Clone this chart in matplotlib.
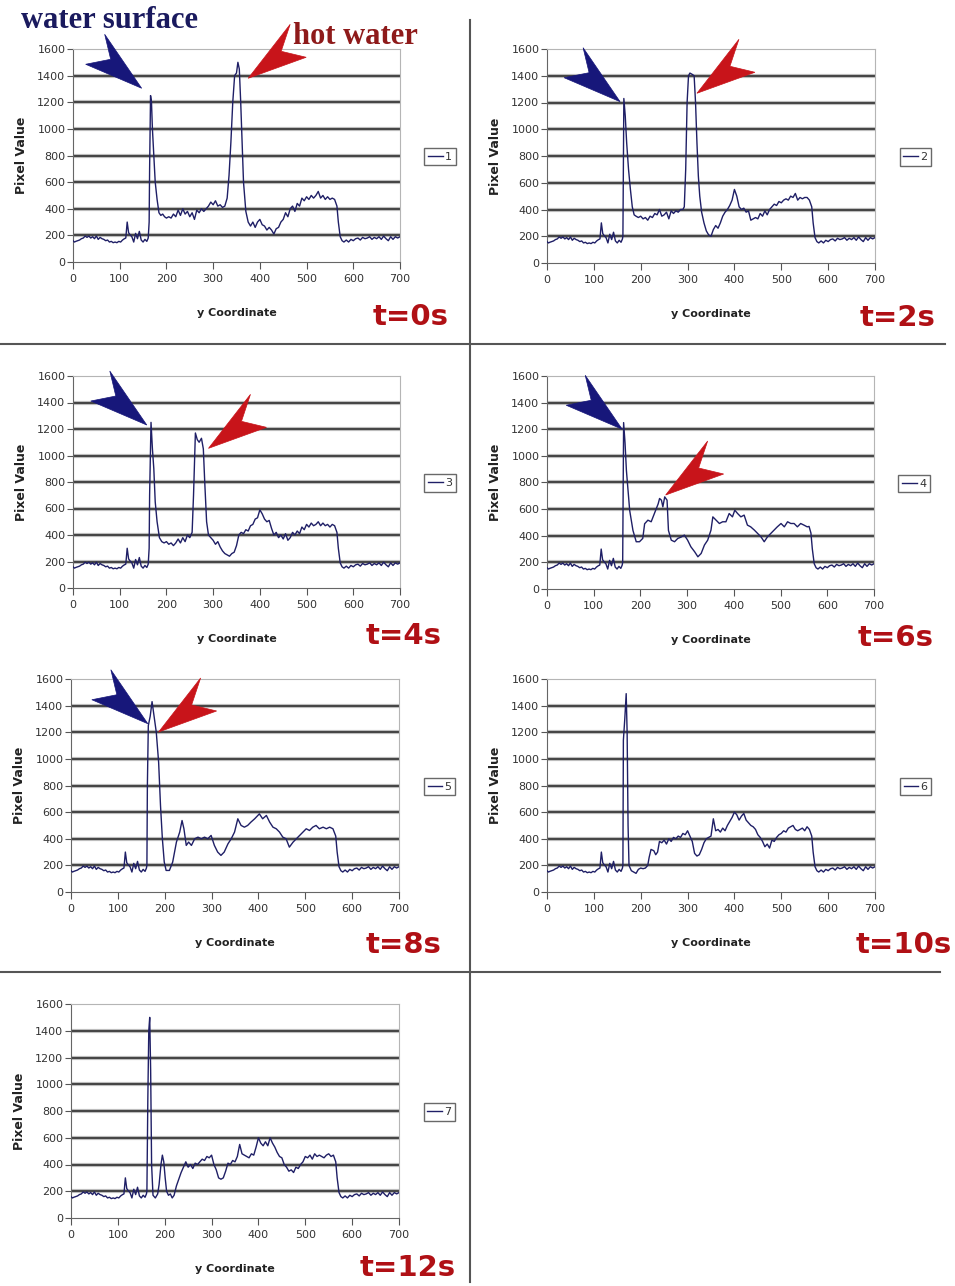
import matplotlib
matplotlib.use('Agg')
import matplotlib.pyplot as plt
import matplotlib.transforms as mtransforms
from matplotlib.patches import Polygon
from matplotlib.lines import Line2D
import numpy as np

# profile above the water surface (same in every frame)
base_profile = [(0, 160), (3, 150), (6, 155), (10, 160), (14, 165), (18, 175), (22, 180),
                (26, 195), (30, 185), (34, 195), (38, 180), (42, 190), (46, 175), (50, 195),
                (54, 170), (58, 185), (62, 175), (66, 170), (70, 160), (74, 165), (78, 150),
                (82, 155), (86, 145), (90, 150), (94, 145), (98, 155), (102, 150), (106, 165),
                (110, 175), (113, 180), (116, 300), (119, 220), (122, 205), (126, 190),
                (130, 150), (134, 215), (138, 175), (142, 230), (146, 165), (150, 150),
                (154, 170), (158, 155), (161, 180)]

# bottom of the tank (same in every frame)
tail_profile = [(565, 420), (568, 300), (572, 190), (576, 160), (580, 150), (585, 165),
                (590, 150), (595, 170), (600, 160), (605, 175), (610, 180), (615, 165),
                (620, 185), (625, 175), (630, 180), (635, 190), (640, 170), (645, 185),
                (650, 175), (655, 190), (660, 170), (665, 195), (670, 175), (675, 160),
                (680, 190), (685, 170), (690, 190), (695, 180), (700, 190)]

t0_profile = [(163, 300), (164, 700), (166, 1250), (168, 1200), (170, 1000), (173, 800),
              (176, 600), (180, 470), (184, 370), (188, 350), (192, 360), (196, 340),
              (200, 330), (205, 340), (210, 330), (215, 360), (220, 340), (225, 390),
              (230, 350), (235, 400), (240, 360), (245, 380), (250, 340), (255, 370),
              (260, 320), (265, 390), (270, 370), (275, 400), (280, 380), (285, 400),
              (290, 420), (295, 450), (300, 430), (305, 460), (310, 420), (315, 430),
              (320, 410), (325, 420), (330, 480), (334, 650), (338, 900), (342, 1200),
              (346, 1400), (350, 1420), (353, 1500), (356, 1450), (359, 1200), (362, 900),
              (365, 600), (370, 380), (375, 300), (380, 270), (385, 300), (390, 260),
              (395, 300), (400, 320), (405, 280), (410, 270), (415, 240), (420, 260),
              (425, 240), (430, 210), (435, 250), (440, 260), (445, 300), (450, 320),
              (455, 370), (460, 340), (465, 400), (470, 420), (475, 380), (480, 440),
              (485, 420), (490, 480), (495, 460), (500, 490), (505, 470), (510, 500),
              (515, 480), (520, 500), (525, 530), (530, 480), (535, 500), (540, 470),
              (545, 490), (550, 470), (555, 480), (560, 470)]

t2_profile = [(162, 200), (164, 1230), (167, 1100), (170, 900), (174, 700), (178, 550),
              (182, 420), (186, 360), (190, 350), (195, 340), (200, 350), (205, 330),
              (210, 340), (215, 320), (220, 350), (225, 340), (230, 370), (235, 360),
              (240, 400), (245, 350), (250, 360), (255, 380), (260, 330), (265, 390),
              (270, 370), (275, 390), (280, 380), (285, 400), (290, 400), (293, 420),
              (296, 700), (299, 1200), (302, 1400), (305, 1420), (310, 1410), (314, 1400),
              (317, 1200), (320, 900), (323, 650), (326, 500), (330, 380), (335, 300),
              (340, 240), (345, 210), (350, 200), (355, 250), (360, 280), (365, 260),
              (370, 300), (375, 350), (380, 380), (385, 400), (390, 430), (395, 470),
              (400, 550), (405, 500), (410, 420), (415, 400), (420, 410), (425, 380),
              (430, 390), (435, 320), (440, 330), (445, 340), (450, 330), (455, 370),
              (460, 350), (465, 390), (470, 360), (475, 400), (480, 420), (485, 440),
              (490, 430), (495, 460), (500, 450), (505, 470), (510, 480), (515, 470),
              (520, 500), (525, 490), (530, 520), (535, 470), (540, 490), (545, 480),
              (550, 490), (555, 490), (560, 470)]

t4_profile = [(163, 300), (164, 700), (167, 1250), (170, 1050), (173, 900), (176, 650),
              (180, 500), (185, 380), (190, 350), (195, 340), (200, 350), (205, 330),
              (210, 340), (215, 320), (220, 340), (225, 370), (230, 340), (235, 380),
              (240, 350), (245, 400), (250, 380), (255, 420), (258, 700), (262, 1170),
              (266, 1120), (270, 1100), (275, 1130), (279, 1050), (282, 800), (286, 500),
              (290, 400), (295, 380), (300, 360), (305, 330), (310, 350), (315, 310),
              (320, 280), (325, 260), (330, 250), (335, 240), (340, 260), (345, 270),
              (350, 320), (355, 400), (360, 420), (365, 410), (370, 440), (375, 430),
              (380, 470), (385, 480), (390, 520), (395, 530), (400, 590), (405, 560),
              (410, 520), (415, 500), (420, 510), (425, 450), (430, 400), (435, 420),
              (440, 380), (445, 400), (450, 370), (455, 410), (460, 360), (465, 380),
              (470, 420), (475, 400), (480, 430), (485, 410), (490, 460), (495, 440),
              (500, 480), (505, 460), (510, 490), (515, 470), (520, 480), (525, 500),
              (530, 470), (535, 490), (540, 470), (545, 480), (550, 460), (555, 480),
              (560, 470)]

t6_profile = [(162, 200), (164, 1250), (167, 1100), (170, 890), (177, 590), (184, 440),
              (191, 355), (198, 355), (205, 380), (209, 490), (216, 517), (223, 505),
              (230, 567), (238, 640), (241, 680), (245, 667), (248, 617), (252, 692),
              (257, 667), (260, 440), (266, 367), (273, 355), (280, 380), (287, 390),
              (294, 405), (301, 367), (308, 317), (316, 280), (323, 242), (330, 267),
              (337, 330), (344, 367), (351, 442), (355, 542), (362, 517), (369, 492),
              (376, 505), (383, 505), (390, 567), (397, 542), (402, 592), (408, 567),
              (415, 542), (422, 555), (429, 480), (436, 467), (444, 442), (451, 417),
              (458, 392), (465, 355), (472, 392), (479, 417), (486, 442), (493, 467),
              (501, 492), (508, 467), (515, 505), (522, 492), (529, 492), (536, 467),
              (543, 492), (550, 480), (557, 467), (561, 470)]

t8_profile = [(162, 200), (163, 800), (165, 1250), (169, 1320), (173, 1430), (178, 1300),
              (182, 1200), (187, 975), (191, 650), (195, 400), (199, 225), (203, 162),
              (210, 162), (217, 225), (225, 375), (232, 450), (237, 537), (241, 475),
              (246, 350), (251, 375), (257, 350), (264, 400), (271, 412), (278, 400),
              (285, 412), (292, 400), (299, 425), (306, 350), (313, 300), (320, 275),
              (327, 300), (335, 362), (342, 400), (349, 450), (356, 550), (363, 500),
              (370, 487), (377, 500), (384, 525), (392, 550), (402, 587), (409, 550),
              (417, 575), (424, 525), (431, 487), (438, 475), (445, 450), (452, 412),
              (459, 400), (466, 337), (474, 375), (481, 400), (488, 425), (495, 450),
              (502, 475), (509, 462), (516, 487), (523, 500), (530, 475), (538, 487),
              (545, 475), (552, 487), (559, 475)]

t10_profile = [(162, 200), (163, 1140), (166, 1300), (169, 1490), (171, 1200), (173, 500),
               (175, 200), (180, 160), (185, 150), (190, 140), (195, 170), (200, 180),
               (205, 175), (210, 180), (215, 200), (218, 260), (222, 320), (228, 310),
               (232, 280), (236, 300), (240, 380), (245, 370), (250, 390), (255, 360),
               (260, 400), (265, 380), (270, 410), (275, 400), (280, 420), (285, 410),
               (290, 440), (295, 430), (300, 460), (305, 420), (310, 380), (315, 290),
               (320, 270), (325, 280), (330, 320), (335, 370), (340, 400), (345, 410),
               (350, 420), (355, 550), (360, 460), (365, 470), (370, 450), (375, 480),
               (380, 460), (385, 500), (390, 530), (395, 560), (400, 600), (405, 580),
               (410, 540), (415, 570), (420, 590), (425, 540), (430, 520), (435, 500),
               (440, 490), (445, 470), (450, 430), (455, 410), (460, 380), (465, 340),
               (470, 360), (475, 330), (480, 390), (485, 380), (490, 410), (495, 430),
               (500, 440), (505, 460), (510, 450), (515, 480), (520, 490), (525, 500),
               (530, 470), (535, 460), (540, 470), (545, 480), (550, 460), (555, 490),
               (560, 470)]

t12_profile = [(162, 200), (164, 900), (166, 1400), (168, 1500), (170, 1100), (172, 400),
               (175, 170), (180, 150), (185, 180), (188, 250), (192, 400), (195, 470),
               (198, 420), (201, 300), (204, 200), (208, 170), (212, 180), (216, 150),
               (220, 170), (225, 240), (230, 290), (235, 340), (240, 380), (245, 420),
               (250, 380), (255, 400), (260, 370), (265, 410), (270, 400), (275, 420),
               (280, 440), (285, 430), (290, 460), (295, 450), (300, 470), (305, 400),
               (310, 360), (315, 300), (320, 290), (325, 300), (330, 350), (335, 410),
               (340, 400), (345, 430), (350, 420), (355, 460), (360, 550), (365, 480),
               (370, 470), (375, 460), (380, 450), (385, 480), (390, 470), (395, 530),
               (400, 600), (405, 560), (410, 540), (415, 570), (420, 540), (425, 600),
               (430, 560), (435, 530), (440, 490), (445, 460), (450, 450), (455, 400),
               (460, 380), (465, 350), (470, 360), (475, 340), (480, 380), (485, 370),
               (490, 400), (495, 420), (500, 460), (505, 450), (510, 470), (515, 440),
               (520, 480), (525, 460), (530, 470), (535, 460), (540, 450), (545, 470),
               (550, 480), (555, 460), (560, 470)]

profiles = [t0_profile, t2_profile, t4_profile, t6_profile, t8_profile, t10_profile, t12_profile]
series_names = ['1', '2', '3', '4', '5', '6', '7']
time_labels = ['t=0s', 't=2s', 't=4s', 't=6s', 't=8s', 't=10s', 't=12s']
x_ticks = [0, 100, 200, 300, 400, 500, 600, 700]
y_ticks = [0, 200, 400, 600, 800, 1000, 1200, 1400, 1600]

# arrow tips in data coords (water surface, hot water)
surface_tips = [(147, 1305), (156, 1206), (158, 1230), (161, 1200), (164, 1264), None, None]
hot_tips = [(375, 1380), (320, 1269), (290, 1054), (254, 706), (187, 1202), None, None]

W, H = 955, 1286
fig = plt.figure(figsize=(W / 100, H / 100), dpi=100)

# axes boxes in pixels: left, right, top, bottom
boxes = [(73, 400, 49, 262), (547, 875, 49, 263), (73, 400, 376, 588), (547, 874, 376, 589),
         (71, 399, 679, 892), (547, 875, 679, 892), (71, 399, 1004, 1218)]
time_pos = [(411, 317), (898, 318), (404, 636), (896, 638), (404, 945), (904, 945), (408, 1268)]

blue_shape = [(0, 0), (-56, -24), (-31, -29), (-37, -54)]
red_shape = [(0, 0), (58, -21), (33, -27), (42, -54)]


def fx(x):
    return x / W


def fy(y):
    return 1 - y / H


def add_dart(ax, tip, shape, color):
    verts = [(dx, -dy) for dx, dy in shape]
    trans = mtransforms.ScaledTranslation(tip[0], tip[1], ax.transData)
    poly = Polygon(verts, closed=True, facecolor=color, edgecolor=color, lw=0.5,
                   transform=mtransforms.IdentityTransform() + trans, clip_on=False, zorder=10)
    ax.add_patch(poly)


for i, prof in enumerate(profiles):
    l, r, t, b = boxes[i]
    ax = fig.add_axes([fx(l), fy(b), (r - l) / W, (b - t) / H])
    pts = np.array(base_profile + prof + tail_profile)
    ax.plot(pts[:, 0], pts[:, 1], color='#1f1f66', lw=1.0, zorder=3, label=series_names[i])
    ax.set_xlim(0, 700)
    ax.set_ylim(0, 1600)
    ax.set_xticks(x_ticks)
    ax.set_yticks(y_ticks)
    for v in y_ticks[1:-1]:
        ax.axhline(v, color='#bdbdbd', lw=3, zorder=1)
        ax.axhline(v, color='#222222', lw=1.1, zorder=2)
    for s in ['top', 'right']:
        ax.spines[s].set_color('#b5b5b5')
    for s in ['left', 'bottom']:
        ax.spines[s].set_color('#666666')
    ax.tick_params(axis='both', direction='out', colors='#555555', labelcolor='#333333',
                   labelsize=8)
    ax.tick_params(axis='x', length=5, pad=3.5)
    ax.tick_params(axis='y', length=4, pad=1.5)
    ax.text(0.5, -0.215, 'y Coordinate', transform=ax.transAxes, ha='center', va='top',
            fontsize=8, fontweight='bold', color='#222222')
    ax.text(-0.156, 0.5, 'Pixel Value', transform=ax.transAxes, ha='center', va='center',
            rotation=90, fontsize=9, fontweight='bold', color='#222222')
    leg = ax.legend(loc='center', bbox_to_anchor=(1.123, 0.495), fontsize=8, frameon=True,
                    fancybox=False, handlelength=1.3, handletextpad=0.2, borderpad=0.35,
                    borderaxespad=0)
    leg.get_frame().set_edgecolor('#444444')
    leg.get_frame().set_linewidth(1.0)
    for txt in leg.get_texts():
        txt.set_color('#333333')
    fig.text(fx(time_pos[i][0]), fy(time_pos[i][1]), time_labels[i], ha='center', va='center',
             fontsize=21, fontweight='bold', color='#b01015')
    if surface_tips[i] is not None:
        add_dart(ax, surface_tips[i], blue_shape, '#17177a')
    if hot_tips[i] is not None:
        add_dart(ax, hot_tips[i], red_shape, '#c8141a')

fig.text(fx(109), fy(21), 'water surface', ha='center', va='center', fontsize=22,
         fontweight='bold', family='Liberation Serif', color='#1a1a5e')
fig.text(fx(355), fy(36), 'hot water', ha='center', va='center', fontsize=22,
         fontweight='bold', family='Liberation Serif', color='#8e1a1a')

# panel separators
sep = dict(color='#555555', lw=1.5, transform=fig.transFigure)
fig.add_artist(Line2D([fx(470), fx(470)], [fy(20), fy(1282)], **sep))
fig.add_artist(Line2D([fx(0), fx(945)], [fy(344), fy(344)], **sep))
fig.add_artist(Line2D([fx(0), fx(940)], [fy(972), fy(972)], **sep))

fig.savefig('out.png', dpi=100)
